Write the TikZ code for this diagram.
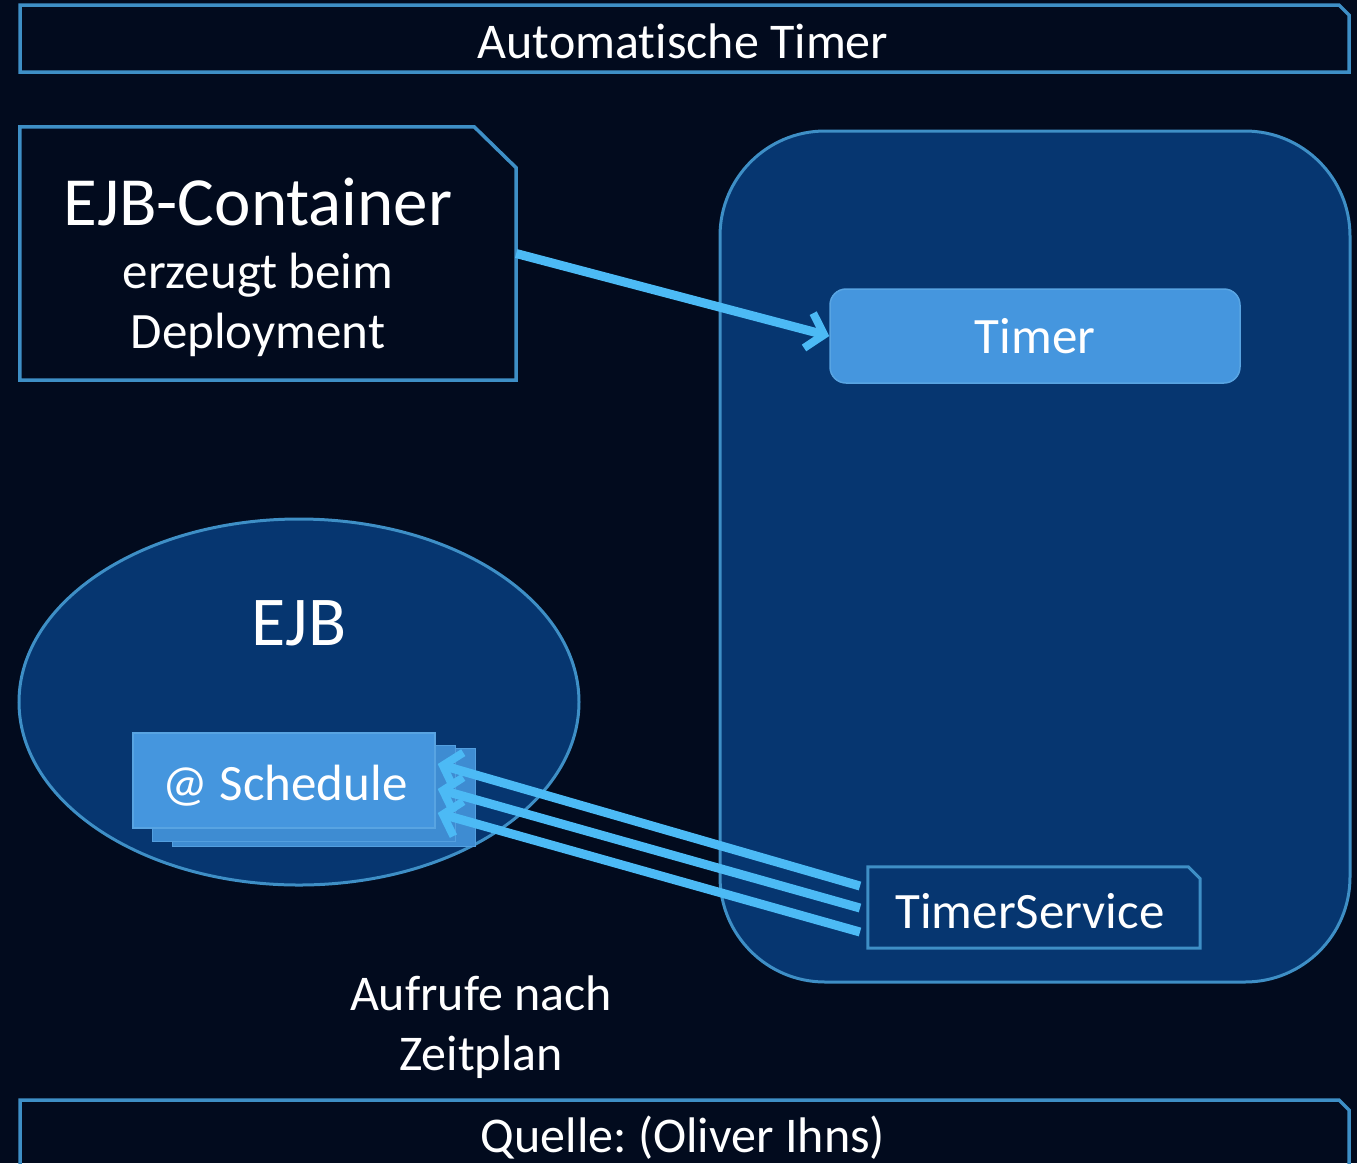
\documentclass[tikz,border=0pt]{standalone}
\usepackage{fontspec}
\setmainfont{Carlito}[Ligatures={NoCommon,NoContextual}, RawFeature={-liga;-clig;-calt}]
\frenchspacing
\usetikzlibrary{arrows.meta,calc,shapes.geometric}
\definecolor{bgnavy}{RGB}{2,11,30}
\definecolor{edgeblue}{RGB}{62,143,198}
\definecolor{panelblue}{RGB}{6,54,112}
\definecolor{chipblue}{RGB}{69,150,222}
\definecolor{chipedge}{RGB}{88,164,226}
\definecolor{stackblue}{RGB}{62,140,210}
\definecolor{arrowblue}{RGB}{76,186,245}
\newcommand\sizedtext[1]{\fontsize{#1}{#1}\selectfont}
\begin{document}
\begin{tikzpicture}[x=1pt,y=-1pt,
  label text/.style={text=white, inner sep=0pt, anchor=base},
  outline/.style={draw=edgeblue, line width=3.5pt, line join=miter},
  chip/.style={rectangle, fill=chipblue, draw=chipedge, line width=1.5pt, inner sep=0pt},
  stackcard/.style={rectangle, fill=stackblue, draw=chipedge!80!stackblue, line width=1pt, inner sep=0pt, minimum width=303pt, minimum height=96pt},
  flow/.style={draw=arrowblue, line width=9pt, -{Straight Barb[length=16pt, width=36pt, line width=8pt]}},
]
\useasboundingbox (0,0) rectangle (1357,1163);
\clip (0,0) rectangle (1357,1163);
\fill[bgnavy] (0,0) rectangle (1357,1163);

% title bar
\draw[outline] (20,5) -- (1339,5) -- (1349,15) -- (1349,72) -- (20,72) -- cycle;
\node[label text] (title) at (683,58) {\sizedtext{50}Automatische Timer};

% EJB container note
\node[rectangle, minimum width=496pt, minimum height=253pt, inner sep=0pt] (cont) at (268,253.5) {};
\draw[outline] (cont.south west) -- (cont.north west) -- ([xshift=-42pt]cont.north east)
  -- ([yshift=-41pt]cont.north east) -- (cont.south east) -- cycle;
\node[label text] (conttitle) at (258,225) {\sizedtext{69}EJB-Container};
\node[label text] (contline1) at (258,288) {\sizedtext{51}erzeugt beim};
\node[label text] (contline2) at (258,348) {\sizedtext{51}Deployment};

% EJB ellipse
\node[ellipse, fill=panelblue, draw=edgeblue, line width=3pt, minimum width=560pt, minimum height=366pt, inner sep=0pt] (ejb) at (299,702) {};
\node[label text] (ejblabel) at (299,645) {\sizedtext{70}EJB};

% server panel
\node[rectangle, rounded corners=105pt, fill=panelblue, draw=edgeblue, line width=3pt, minimum width=630pt, minimum height=851pt, inner sep=0pt] (panel) at (1035,556.5) {};

% timer chip
\node[chip, rounded corners=16pt, minimum width=410pt, minimum height=94pt] (timer) at (1035,336) {};
\node[label text] (timerlabel) at (1035,353) {\sizedtext{51}Timer};

% timer service note
\node[rectangle, minimum width=332pt, minimum height=81pt, inner sep=0pt] (ts) at (1034,907.5) {};
\draw[outline, line width=3pt] (ts.south west) -- (ts.north west) -- ([xshift=-12pt]ts.north east)
  -- ([yshift=-12pt]ts.north east) -- (ts.south east) -- cycle;
\node[label text] (tslabel) at (1030,928) {\sizedtext{51}TimerService};

% schedule stack
\node[stackcard, minimum height=98pt] (card3) at (323.5,797) {};
\node[stackcard] (card2) at (303.5,793) {};
\node[chip, minimum width=302pt, minimum height=95pt] (sched) at (284,780.5) {};
\node[label text] (schedlabel) at (285,800) {\sizedtext{51}@ Schedule};

% connectors
\coordinate (ts1) at (860,886);
\coordinate (ts2) at (860,908);
\coordinate (ts3) at (860,932);
\draw[flow] (cont.east) -- (timer.west);
\draw[flow] (ts1) -- ([xshift=2pt,yshift=16.5pt]sched.east);
\draw[flow] (ts2) -- ([xshift=2pt,yshift=-8.5pt]sched.east);
\draw[flow] (ts3) -- ([xshift=2pt,yshift=-32.5pt]sched.east);

% caption
\node[label text] (cap1) at (481,1010) {\sizedtext{50}Aufrufe nach};
\node[label text] (cap2) at (481,1070) {\sizedtext{50}Zeitplan};

% source bar
\draw[outline] (20,1180) -- (20,1100) -- (1339,1100) -- (1349,1110) -- (1349,1180);
\node[label text] (source) at (683,1152) {\sizedtext{50}Quelle: (Oliver Ihns)};
\end{tikzpicture}
\end{document}
